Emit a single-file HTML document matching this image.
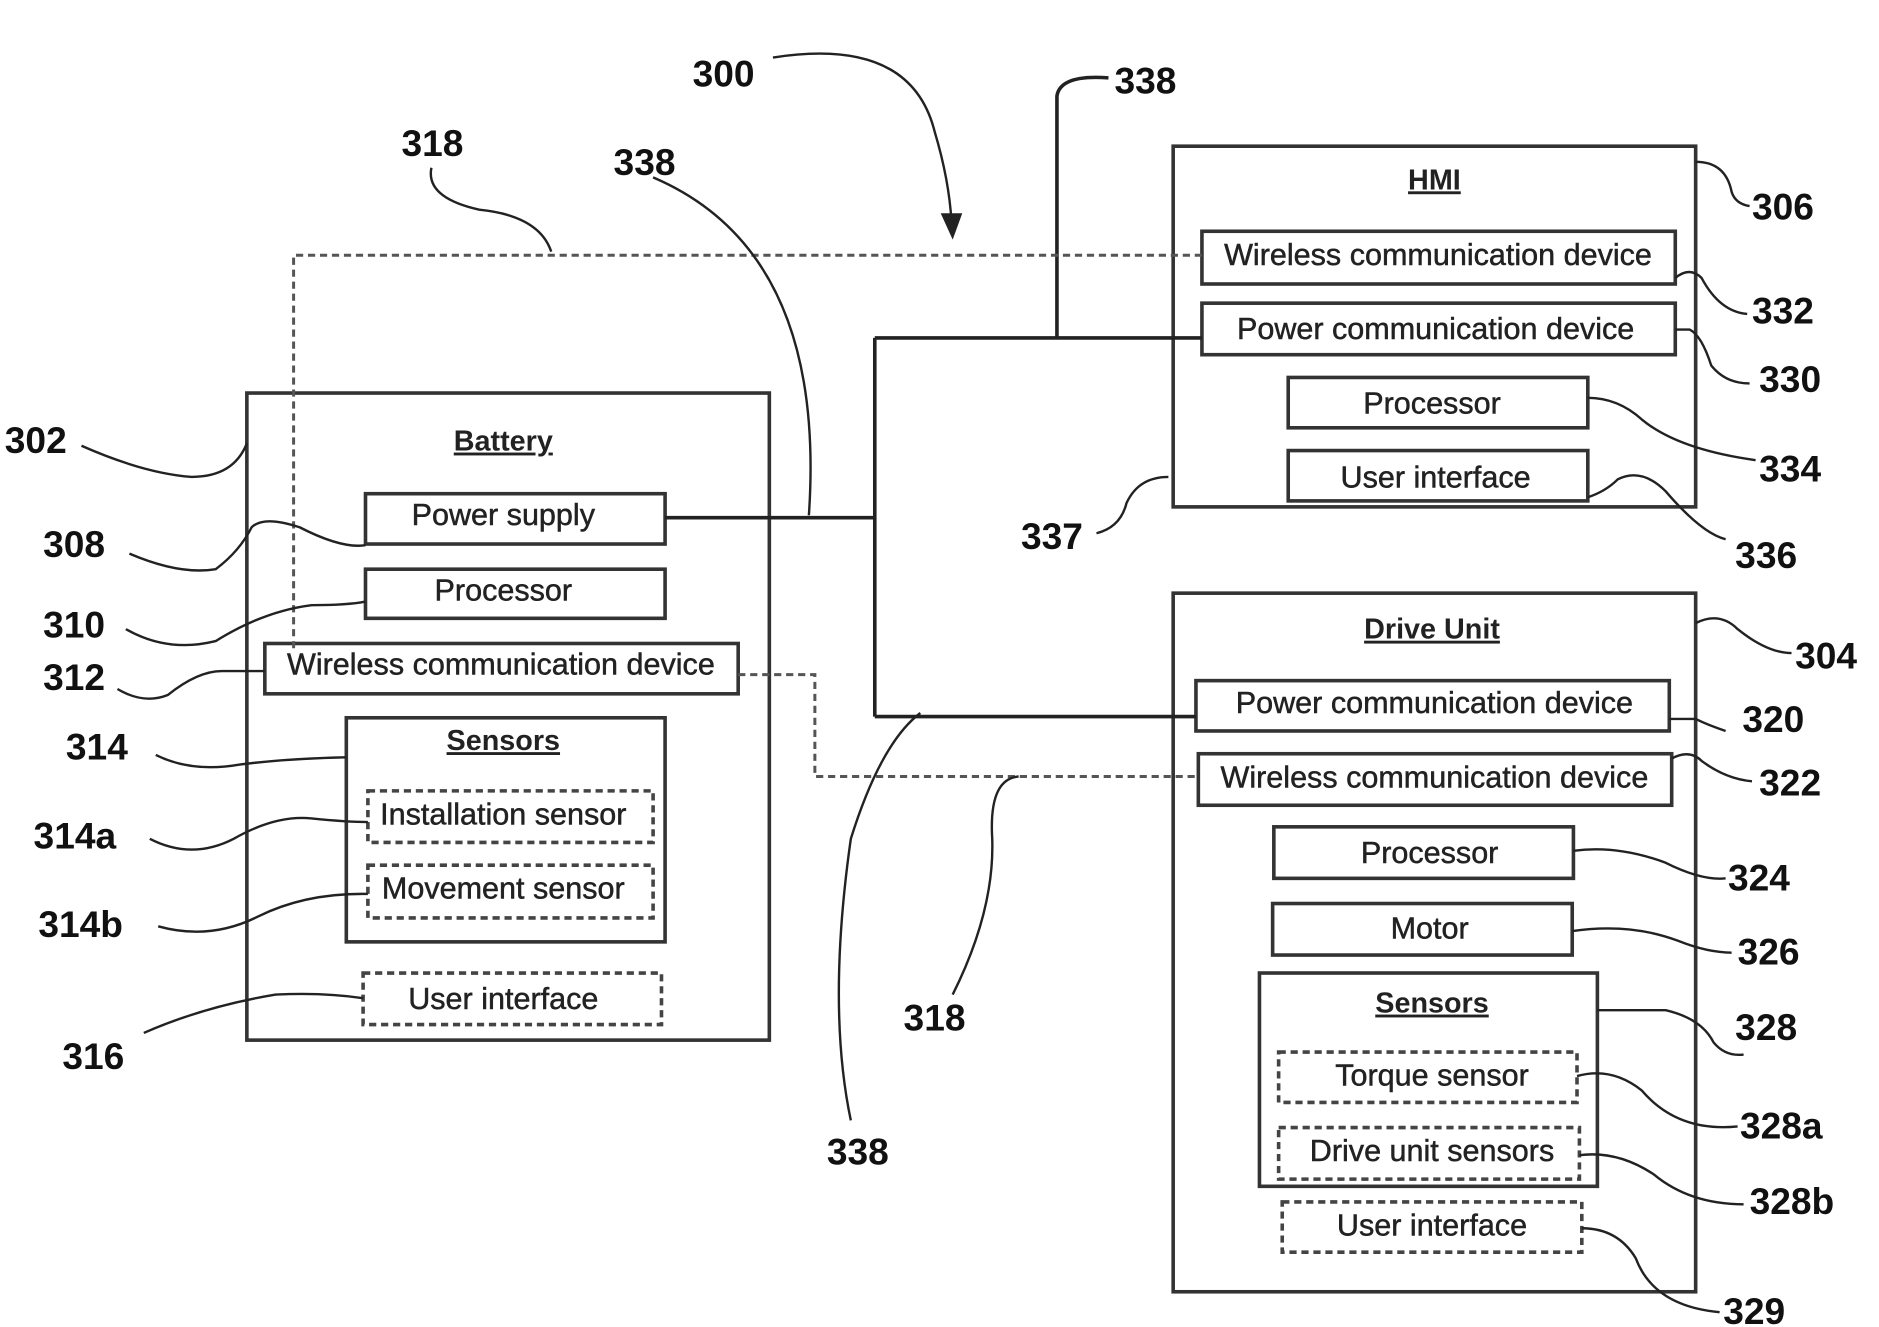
<!DOCTYPE html>
<html><head><meta charset="utf-8"><style>
html,body{margin:0;padding:0;background:#fff}
svg{display:block}
.b{font-family:"Liberation Sans",sans-serif;font-size:25.5px;fill:#222;text-anchor:middle;stroke:#222;stroke-width:0.4}
.t{font-family:"Liberation Sans",sans-serif;font-size:24px;font-weight:bold;fill:#222;text-anchor:middle;text-decoration:underline}
.n{font-family:"Liberation Sans",sans-serif;font-size:31px;font-weight:bold;fill:#111}
.box{fill:none;stroke:#333;stroke-width:3}
.dbox{fill:none;stroke:#444;stroke-width:3;stroke-dasharray:6,4}
.l{fill:none;stroke:#222;stroke-width:2}
.p{fill:none;stroke:#222;stroke-width:3}
.d{fill:none;stroke:#555;stroke-width:2.5;stroke-dasharray:6,4}
</style></head><body>
<svg width="1879" height="1327" viewBox="0 0 1568 1107.4" preserveAspectRatio="none" xmlns="http://www.w3.org/2000/svg">
<rect class="box" x="206" y="328" width="436" height="540"/>
<text class="t" x="420" y="376">Battery</text>
<rect class="box" x="305" y="412" width="250" height="42"/><text class="b" x="420" y="438">Power supply</text>
<rect class="box" x="305" y="475" width="250" height="41"/><text class="b" x="420" y="501">Processor</text>
<rect class="box" x="221" y="537" width="395" height="42"/><text class="b" x="418" y="563">Wireless communication device</text>
<rect class="box" x="289" y="599" width="266" height="187"/>
<text class="t" x="420" y="626">Sensors</text>
<rect class="dbox" x="307" y="660" width="238" height="43"/><text class="b" x="420" y="688">Installation sensor</text>
<rect class="dbox" x="307" y="722" width="238" height="44"/><text class="b" x="420" y="750">Movement sensor</text>
<rect class="dbox" x="303" y="812" width="249" height="43"/><text class="b" x="420" y="842">User interface</text>
<rect class="box" x="979" y="122" width="436" height="301"/>
<text class="t" x="1197" y="158">HMI</text>
<rect class="box" x="1003" y="193" width="395" height="44"/><text class="b" x="1200" y="221">Wireless communication device</text>
<rect class="box" x="1003" y="253" width="395" height="43"/><text class="b" x="1198" y="283">Power communication device</text>
<rect class="box" x="1075" y="315" width="250" height="42"/><text class="b" x="1195" y="345">Processor</text>
<rect class="box" x="1075" y="376" width="250" height="42"/><text class="b" x="1198" y="407">User interface</text>
<rect class="box" x="979" y="495" width="436" height="583"/>
<text class="t" x="1195" y="533">Drive Unit</text>
<rect class="box" x="998" y="568" width="395" height="42"/><text class="b" x="1197" y="595">Power communication device</text>
<rect class="box" x="1000" y="629" width="395" height="43"/><text class="b" x="1197" y="657">Wireless communication device</text>
<rect class="box" x="1063" y="690" width="250" height="43"/><text class="b" x="1193" y="720">Processor</text>
<rect class="box" x="1062" y="754" width="250" height="43"/><text class="b" x="1193" y="783">Motor</text>
<rect class="box" x="1051" y="812" width="282" height="178"/>
<text class="t" x="1195" y="845">Sensors</text>
<rect class="dbox" x="1067" y="878" width="249" height="42"/><text class="b" x="1195" y="906">Torque sensor</text>
<rect class="dbox" x="1067" y="941" width="251" height="43"/><text class="b" x="1195" y="969">Drive unit sensors</text>
<rect class="dbox" x="1070" y="1003" width="250" height="42"/><text class="b" x="1195" y="1031">User interface</text>
<path class="p" d="M555 432 H730 M730 282 V598 M730 282 H1003 M730 598 H998 M882 282 V80 Q885 62 925 65"/>
<path class="d" d="M1003 213 H245 V545 M616 563 H680 V648 H1000"/>
<path class="l" d="M645 48 Q760 30 780 110 Q792 150 794 185"/>
<path d="M785 178 L795 200 L803 178 Z" fill="#222"/>
<path class="l" d="M360 140 Q355 165 400 175 Q450 180 460 210"/>
<path class="l" d="M545 148 Q690 210 675 430"/>
<path class="l" d="M68 372 Q120 395 160 398 Q195 398 206 370"/>
<path class="l" d="M108 462 Q150 480 180 475 Q200 460 210 440 Q220 430 250 440 Q285 458 305 455"/>
<path class="l" d="M105 525 Q140 545 180 535 Q220 510 260 505 Q290 505 305 502"/>
<path class="l" d="M98 575 Q120 588 140 580 Q165 560 185 560 H221"/>
<path class="l" d="M130 630 Q160 645 200 638 Q240 633 289 632"/>
<path class="l" d="M125 700 Q160 718 195 700 Q230 680 260 683 Q290 686 307 686"/>
<path class="l" d="M132 773 Q175 785 215 765 Q255 745 307 746"/>
<path class="l" d="M120 862 Q170 840 230 830 Q270 828 303 833"/>
<path class="l" d="M1415 135 Q1440 135 1445 160 Q1448 170 1460 172"/>
<path class="l" d="M1398 232 Q1410 222 1420 232 Q1435 260 1458 262"/>
<path class="l" d="M1398 275 H1410 Q1420 280 1428 305 Q1440 320 1460 320"/>
<path class="l" d="M1325 332 Q1350 332 1370 350 Q1400 375 1465 384"/>
<path class="l" d="M1325 415 Q1340 410 1350 400 Q1370 390 1390 410 Q1420 445 1440 450"/>
<path class="l" d="M915 445 Q935 440 940 420 Q950 398 975 398"/>
<path class="l" d="M1415 520 Q1435 510 1450 525 Q1475 545 1495 545"/>
<path class="l" d="M1393 600 H1415 Q1425 605 1440 610"/>
<path class="l" d="M1395 633 Q1410 625 1420 635 Q1440 650 1462 652"/>
<path class="l" d="M1313 710 Q1350 705 1390 720 Q1420 735 1440 733"/>
<path class="l" d="M1312 777 Q1360 770 1400 785 Q1425 795 1445 795"/>
<path class="l" d="M1333 843 H1390 Q1420 850 1430 870 Q1440 882 1455 880"/>
<path class="l" d="M1316 898 Q1345 890 1370 910 Q1400 945 1450 940"/>
<path class="l" d="M1318 964 Q1350 960 1380 980 Q1410 1005 1455 1005"/>
<path class="l" d="M1320 1025 Q1350 1025 1365 1050 Q1380 1090 1435 1095"/>
<path class="l" d="M795 830 Q830 760 828 700 Q825 650 850 648"/>
<path class="l" d="M710 935 Q690 840 710 700 Q735 620 768 595"/>
<text class="n" x="578" y="72">300</text>
<text class="n" x="930" y="78">338</text>
<text class="n" x="335" y="130">318</text>
<text class="n" x="512" y="146">338</text>
<text class="n" x="1462" y="183">306</text>
<text class="n" x="4" y="378">302</text>
<text class="n" x="1462" y="270">332</text>
<text class="n" x="1468" y="327">330</text>
<text class="n" x="1468" y="402">334</text>
<text class="n" x="852" y="458">337</text>
<text class="n" x="1448" y="474">336</text>
<text class="n" x="36" y="465">308</text>
<text class="n" x="36" y="532">310</text>
<text class="n" x="36" y="576">312</text>
<text class="n" x="1498" y="558">304</text>
<text class="n" x="55" y="634">314</text>
<text class="n" x="1454" y="611">320</text>
<text class="n" x="1468" y="664">322</text>
<text class="n" x="28" y="708">314a</text>
<text class="n" x="1442" y="743">324</text>
<text class="n" x="32" y="782">314b</text>
<text class="n" x="1450" y="805">326</text>
<text class="n" x="754" y="860">318</text>
<text class="n" x="1448" y="868">328</text>
<text class="n" x="52" y="892">316</text>
<text class="n" x="1452" y="950">328a</text>
<text class="n" x="690" y="972">338</text>
<text class="n" x="1460" y="1013">328b</text>
<text class="n" x="1438" y="1105">329</text>
</svg>
</body></html>
